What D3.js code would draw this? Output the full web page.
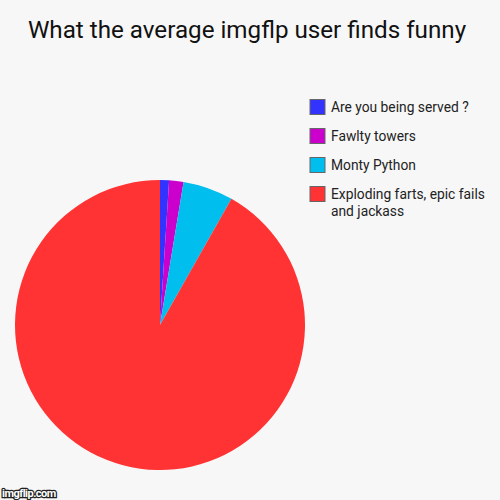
<!DOCTYPE html>
<html>
<head>
<meta charset="utf-8">
<script src="https://cdn.jsdelivr.net/npm/d3@7"></script>
<style>
  body { margin: 0; background: #f7f7f7; }
  text { font-family: Roboto, "Open Sans", sans-serif; }
</style>
</head>
<body>
<div id="chart"></div>
<script>
// data (share of the pie, in percent)
let categories = ["Are you being served ?", "Fawlty towers", "Monty Python", "Exploding farts, epic fails and jackass"];
let values = [1.0, 1.6, 5.6, 91.8];
let colors = ["#3333ff", "#cc00cc", "#00bfef", "#ff3333"];
let legendLines = [["Are you being served ?"], ["Fawlty towers"], ["Monty Python"], ["Exploding farts, epic fails", "and jackass"]];

let width = 500, height = 500;

let svg = d3.select("#chart").append("svg")
    .attr("width", width)
    .attr("height", height);

svg.append("rect")
    .attr("width", width)
    .attr("height", height)
    .attr("fill", "#f7f7f7");

// title (typo is in the original)
svg.append("text")
    .attr("x", 247)
    .attr("y", 38)
    .attr("text-anchor", "middle")
    .attr("font-size", 24.2)
    .attr("fill", "#111")
    .text("What the average imgflp user finds funny");

let colorScale = d3.scaleOrdinal()
    .domain(categories)
    .range(colors);

// pie, starting at 12 o'clock going clockwise
let pie = d3.pie().sort(null).value(d => d.value);
let arc = d3.arc().innerRadius(0).outerRadius(145);

let data = categories.map((c, i) => ({ name: c, value: values[i] }));

let g = svg.append("g")
    .attr("transform", "translate(160,325)");

g.selectAll(".slice")
    .data(pie(data))
    .enter().append("path")
    .attr("class", "slice")
    .attr("d", arc)
    .attr("fill", d => colorScale(d.data.name));

// legend
let legendY = d3.scalePoint()
    .domain(categories)
    .range([107, 194]);

let legend = svg.selectAll(".legend")
    .data(categories)
    .enter().append("g")
    .attr("class", "legend")
    .attr("transform", d => "translate(310," + legendY(d) + ")");

legend.append("rect")
    .attr("x", 0)
    .attr("y", -7.5)
    .attr("width", 15)
    .attr("height", 15)
    .attr("fill", d => colorScale(d))
    .attr("stroke", "#666")
    .attr("stroke-width", 1);

legend.append("text")
    .attr("x", 21)
    .attr("y", 5)
    .attr("font-size", 13.8)
    .attr("fill", "#222")
    .selectAll("tspan")
    .data((d, i) => legendLines[i])
    .enter().append("tspan")
    .attr("x", 21)
    .attr("dy", (d, i) => i === 0 ? 0 : 17)
    .text(d => d);

// watermark
svg.append("text")
    .attr("x", 2)
    .attr("y", 497)
    .attr("font-size", 11)
    .attr("font-weight", "bold")
    .attr("fill", "#fff")
    .attr("stroke", "#222")
    .attr("stroke-width", 2.5)
    .attr("paint-order", "stroke")
    .attr("letter-spacing", -0.5)
    .text("imgflip.com");
</script>
</body>
</html>
